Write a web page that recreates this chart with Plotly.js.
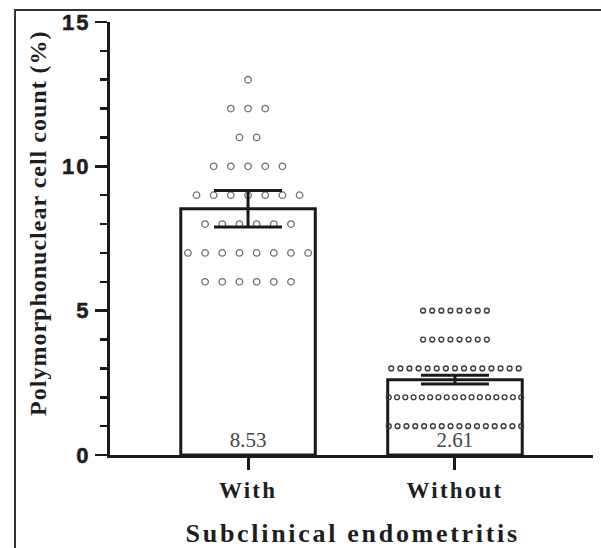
<!DOCTYPE html>
<html>
<head>
<meta charset="utf-8">
<script src="https://cdn.plot.ly/plotly-3.0.1.min.js"></script>
<style>
  html, body { margin: 0; padding: 0; background: #fff; overflow: hidden; }
  #wrap { position: relative; width: 601px; height: 548px; }
  #chart { position: absolute; left: 0; top: 0; width: 601px; height: 548px; }
  #frame { position: absolute; left: 14px; top: 9px; right: -5px; bottom: -5px;
           border-top: 2px solid #333; border-left: 2px solid #333; pointer-events: none; }
  .xtick text { letter-spacing: 2.2px; font-weight: 700 !important; }
  .ytick text { letter-spacing: 2px; font-weight: 700 !important; stroke: #1e1e1e; stroke-width: 0.5px; }
  .annotation[data-index="0"] .annotation-text { letter-spacing: 1.0px; font-weight: 700 !important; }
  .annotation[data-index="1"] .annotation-text { letter-spacing: 2.7px; font-weight: 700 !important; }
</style>
</head>
<body>
<div id="wrap">
  <div id="chart"></div>
  <div id="frame"></div>
</div>
<script>
// ---- data ----
const categories = ['With', 'Without'];
const means = [8.53, 2.61];
const ci = [0.63, 0.15];
const withValues = [13,
  12, 12, 12,
  11, 11,
  10, 10, 10, 10, 10,
  9, 9, 9, 9, 9, 9, 9,
  8, 8, 8, 8, 8, 8,
  7, 7, 7, 7, 7, 7, 7, 7,
  6, 6, 6, 6, 6, 6];
const withoutValues = [
  5, 5, 5, 5, 5, 5, 5, 5,
  4, 4, 4, 4, 4, 4, 4, 4,
  3, 3, 3, 3, 3, 3, 3, 3, 3, 3, 3, 3, 3, 3, 3,
  2, 2, 2, 2, 2, 2, 2, 2, 2, 2, 2, 2, 2, 2, 2, 2, 2,
  1, 1, 1, 1, 1, 1, 1, 1, 1, 1, 1, 1, 1, 1, 1, 1];
const yTickVals = [0, 5, 10, 15];
const yTitle = 'Polymorphonuclear cell count (%)';
const xTitle = 'Subclinical endometritis';

// scatter-dot arrangement: equal values spread in a centred row
function spread(values, center, step, maxSpan) {
  const groups = {};
  values.forEach(v => { (groups[v] = groups[v] || []).push(v); });
  const xs = [], ys = [];
  Object.keys(groups).forEach(k => {
    const n = groups[k].length;
    const s = n > 1 ? Math.min(step, maxSpan / (n - 1)) : 0;
    for (let i = 0; i < n; i++) {
      xs.push(center + (i - (n - 1) / 2) * s);
      ys.push(Number(k));
    }
  });
  return {x: xs, y: ys};
}
const dWith = spread(withValues, 0, 0.083, 1);
const dWithout = spread(withoutValues, 1, 0.044, 0.64);
const xPos = categories.map((c, i) => i);

const ink = '#1a1a1a';
const traces = [
  {
    type: 'bar', x: xPos, y: means, width: 0.65,
    marker: {color: '#ffffff', line: {color: ink, width: 3}},
    text: means.map(m => m.toFixed(2)),
    textposition: 'inside', insidetextanchor: 'start',
    textfont: {family: 'Liberation Serif, serif', size: 21, color: '#444'},
    constraintext: 'none', cliponaxis: false
  },
  {
    type: 'scatter', mode: 'markers', x: dWith.x, y: dWith.y,
    marker: {symbol: 'circle-open', size: 6.5, color: '#6e6e6e', line: {width: 1.3, color: '#6e6e6e'}},
    cliponaxis: false
  },
  {
    type: 'scatter', mode: 'markers', x: dWithout.x, y: dWithout.y,
    marker: {symbol: 'circle-open', size: 4.8, color: '#3c3c3c', line: {width: 1.4, color: '#3c3c3c'}},
    cliponaxis: false
  },
  {
    type: 'scatter', mode: 'markers', x: xPos, y: means,
    marker: {size: 1, opacity: 0},
    error_y: {type: 'data', array: ci, symmetric: true, thickness: 3, width: 34, color: ink}
  }
];

const layout = {
  width: 601, height: 548,
  margin: {l: 110, r: 8, t: 22, b: 93},
  paper_bgcolor: '#fff', plot_bgcolor: '#fff',
  showlegend: false,
  bargap: 0,
  xaxis: {
    range: [-0.667, 1.667], tickmode: 'array', tickvals: xPos, ticktext: categories,
    showgrid: false, zeroline: false,
    showline: true, linecolor: ink, linewidth: 3,
    ticks: 'outside', ticklen: 12, tickwidth: 3, tickcolor: ink,
    tickfont: {family: 'Liberation Serif, serif', size: 23, color: '#1e1e1e', weight: 700},
    automargin: false
  },
  yaxis: {
    range: [0, 15], tickmode: 'array', tickvals: yTickVals,
    showgrid: false, zeroline: false,
    showline: true, linecolor: ink, linewidth: 3,
    ticks: 'outside', ticklen: 12, tickwidth: 2.5, tickcolor: ink,
    minor: {dtick: 1, ticks: 'outside', ticklen: 7, tickwidth: 2.5, tickcolor: ink, showgrid: false},
    tickfont: {family: 'Liberation Sans, Arial, sans-serif', size: 22, color: '#1e1e1e', weight: 700},
    automargin: false
  },
  annotations: [{
    text: yTitle, xref: 'paper', yref: 'paper', x: 0, y: 0.536,
    xanchor: 'center', yanchor: 'middle', xshift: -72, textangle: -90,
    showarrow: false,
    font: {family: 'Liberation Serif, serif', size: 24, color: '#1e1e1e', weight: 700}
  }, {
    text: xTitle, xref: 'paper', yref: 'paper', x: 0.5, y: -0.1806,
    xanchor: 'center', yanchor: 'middle', xshift: 1, borderpad: 0,
    showarrow: false,
    font: {family: 'Liberation Serif, serif', size: 26, color: '#1e1e1e', weight: 700}
  }]
};

Plotly.newPlot('chart', traces, layout, {staticPlot: true, displayModeBar: false});
</script>
</body>
</html>
